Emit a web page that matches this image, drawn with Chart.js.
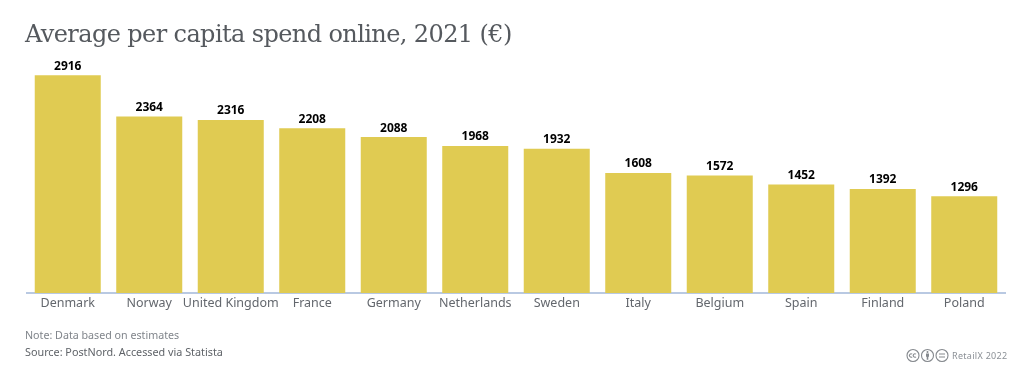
<!DOCTYPE html>
<html>
<head>
<meta charset="utf-8">
<title>Average per capita spend online, 2021</title>
<script src="https://cdn.jsdelivr.net/npm/chart.js@4"></script>
<style>
  html,body{margin:0;padding:0;background:#fff;overflow:hidden}
  #wrap{position:relative;width:1030px;height:387px}
  #wrap canvas{position:absolute;left:0;top:0}
  .txt{position:absolute;white-space:nowrap;font-family:"Noto Sans",sans-serif}
  #title{left:25px;top:16px;font-family:"DejaVu Serif",serif;font-size:24px;line-height:36px;color:#55595e;letter-spacing:-.6px}
  #note{left:25px;top:327px;font-size:10.7px;line-height:16px;color:#80858b}
  #source{left:25px;top:344px;font-size:10.8px;line-height:16px;color:#5f6368}
  #brand{left:952px;top:349px;font-size:9px;line-height:14px;color:#8b9096;letter-spacing:.3px}
  #cc{position:absolute;left:906px;top:348px}
</style>
</head>
<body>
<div id="wrap">
  <canvas id="chart" width="1030" height="387"></canvas>
  <div class="txt" id="title">Average per capita spend online, 2021 (€)</div>
  <div class="txt" id="note">Note: Data based on estimates</div>
  <div class="txt" id="source">Source: PostNord. Accessed via Statista</div>
  <svg id="cc" width="44" height="15" viewBox="0 0 44 15">
    <g fill="none" stroke="#85898e" stroke-width="1.1">
      <circle cx="7" cy="7.5" r="6"/><circle cx="21.5" cy="7.5" r="6"/><circle cx="36" cy="7.5" r="6"/>
      <path d="M6.2 6.2a1.7 1.7 0 1 0 0 2.6M10 6.2a1.7 1.7 0 1 0 0 2.6"/>
      <path d="M33 6h6M33 9h6"/>
    </g>
    <path d="M20 5.4h3v3.4h-.7v3h-1.6v-3H20z" fill="#85898e"/><circle cx="21.5" cy="3.9" r="1" fill="#85898e"/>
  </svg>
  <div class="txt" id="brand">RetailX 2022</div>
</div>
<script>
const countries=['Denmark','Norway','United Kingdom','France','Germany','Netherlands','Sweden','Italy','Belgium','Spain','Finland','Poland'];
const spend=[2916,2364,2316,2208,2088,1968,1932,1608,1572,1452,1392,1296];
const yMax=3000;

// value labels above the bars
const valueLabels={
  id:'valueLabels',
  afterDatasetsDraw(chart){
    const ctx=chart.ctx;
    ctx.save();
    ctx.font='700 12px "Noto Sans", sans-serif';
    ctx.fillStyle='#000';
    ctx.textAlign='center';
    ctx.textBaseline='bottom';
    chart.getDatasetMeta(0).data.forEach((bar,i)=>ctx.fillText(spend[i],bar.x,bar.y-3));
    ctx.restore();
  }
};

new Chart(document.getElementById('chart'),{
  type:'bar',
  data:{labels:countries,datasets:[{data:spend,backgroundColor:'#e0cb52',categoryPercentage:.81,barPercentage:1}]},
  options:{
    responsive:false,animation:false,
    layout:{padding:{top:69,left:27,right:25,bottom:0}},
    plugins:{legend:{display:false},tooltip:{enabled:false}},
    scales:{
      x:{
        afterFit(s){s.height=94;},
        grid:{display:false,drawTicks:false},
        border:{color:'#b9c9e2',width:2},
        ticks:{color:'#63676d',padding:3,maxRotation:0,autoSkip:false,font:{family:'"Noto Sans", sans-serif',size:12.5}}
      },
      y:{display:false,min:0,max:yMax}
    }
  },
  plugins:[valueLabels]
});
</script>
</body>
</html>
